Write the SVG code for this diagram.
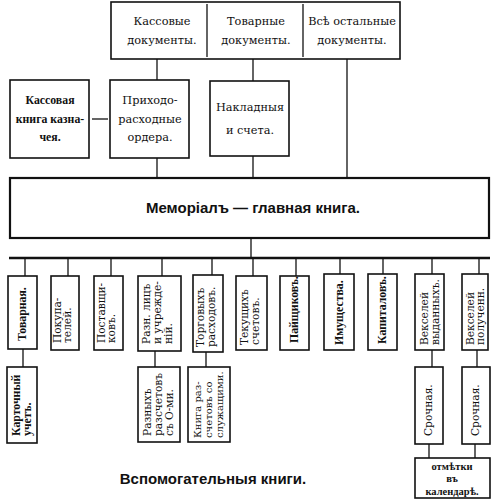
<svg xmlns="http://www.w3.org/2000/svg" width="491" height="500" viewBox="0 0 491 500">
<style>
.bx{fill:#fff;stroke:#111;stroke-width:1.6}
.ln{fill:none;stroke:#111;stroke-width:1.3}
.t{font-family:"DejaVu Serif","Liberation Serif",serif;font-size:11.3px;fill:#111;text-anchor:middle}
.kb{font-family:"Liberation Serif","DejaVu Serif",serif;font-size:11.8px;font-weight:bold;fill:#111;text-anchor:middle}
.v{font-family:"DejaVu Serif","Liberation Serif",serif;font-size:10.6px;fill:#111;text-anchor:start}
.vb{font-family:"Liberation Serif","DejaVu Serif",serif;font-size:11.8px;font-weight:bold;fill:#111;text-anchor:start}
.s{font-family:"Liberation Sans","DejaVu Sans",sans-serif;font-size:15px;font-weight:bold;fill:#111;text-anchor:middle}
</style>
<rect width="491" height="500" fill="#fff"/>
<g id="connectors">
<line class="ln" x1="157" y1="59" x2="157" y2="80"/>
<line class="ln" x1="253" y1="59" x2="253" y2="81"/>
<line class="ln" x1="347" y1="59" x2="347" y2="178"/>
<line class="ln" x1="92" y1="119" x2="108" y2="119"/>
<line class="ln" x1="157" y1="158" x2="157" y2="178"/>
<line class="ln" x1="253" y1="156" x2="253" y2="178"/>
<line class="ln" x1="251" y1="238" x2="251" y2="258"/>
<line x1="9" y1="258" x2="490" y2="258" stroke="#111" stroke-width="2.6"/>
<line class="ln" x1="25" y1="258" x2="25" y2="276"/>
<line class="ln" x1="68" y1="258" x2="68" y2="276"/>
<line class="ln" x1="111" y1="258" x2="111" y2="276"/>
<line class="ln" x1="162" y1="258" x2="162" y2="276"/>
<line class="ln" x1="212" y1="258" x2="212" y2="275"/>
<line class="ln" x1="253" y1="258" x2="253" y2="276"/>
<line class="ln" x1="296" y1="258" x2="296" y2="276"/>
<line class="ln" x1="340" y1="258" x2="340" y2="274"/>
<line class="ln" x1="383" y1="258" x2="383" y2="274"/>
<line class="ln" x1="432" y1="258" x2="432" y2="274"/>
<line class="ln" x1="479" y1="258" x2="479" y2="274"/>
<line class="ln" x1="23" y1="349" x2="23" y2="367"/>
<line class="ln" x1="155" y1="351" x2="155" y2="367"/>
<line class="ln" x1="206" y1="352" x2="206" y2="367"/>
<line class="ln" x1="432" y1="350" x2="432" y2="367"/>
<line class="ln" x1="477" y1="350" x2="477" y2="367"/>
<line class="ln" x1="429" y1="444" x2="429" y2="458"/>
<line class="ln" x1="475" y1="444" x2="475" y2="458"/>
</g>
<g id="top-documents">
<rect class="bx" x="111" y="2" width="289" height="57"/>
<line class="ln" x1="207" y1="4" x2="207" y2="57"/>
<line class="ln" x1="303" y1="4" x2="303" y2="57"/>
<text class="t" x="162" y="25">Кассовые</text>
<text class="t" x="162" y="44">документы.</text>
<text class="t" x="256" y="25">Товарные</text>
<text class="t" x="256" y="44">документы.</text>
<text class="t" x="352" y="25">Всѣ остальные</text>
<text class="t" x="352" y="44">документы.</text>
</g>
<g id="kassovaya">
<rect class="bx" x="10" y="80" width="79" height="78"/>
<text class="kb" x="50" y="104">Кассовая</text>
<text class="kb" x="50" y="123">книга казна-</text>
<text class="kb" x="50" y="141">чея.</text>
</g>
<g id="prikhodo">
<rect class="bx" x="110" y="80" width="79" height="78"/>
<text class="t" x="150" y="104">Приходо-</text>
<text class="t" x="150" y="123">расходные</text>
<text class="t" x="150" y="141">ордера.</text>
</g>
<g id="nakladnyya">
<rect class="bx" x="210" y="81" width="79" height="75"/>
<text class="t" x="250" y="111">Накладныя</text>
<text class="t" x="250" y="134">и счета.</text>
</g>
<g id="memorial">
<rect x="10" y="178" width="479" height="60" fill="#fff" stroke="#111" stroke-width="2.2"/>
<text class="s" x="253" y="213">Меморіалъ — главная  книга.</text>
</g>
<g id="tovarnaya">
<rect class="bx" x="8" y="276" width="29" height="73"/>
<text class="vb" transform="translate(26,341) rotate(-90)">Товарная.</text>
</g>
<g id="pokupateley">
<rect class="bx" x="51" y="276" width="28" height="74"/>
<text class="v" transform="translate(61,343) rotate(-90)">Покупа-</text>
<text class="v" transform="translate(71,343) rotate(-90)">телей.</text>
</g>
<g id="postavshchikov">
<rect class="bx" x="94" y="276" width="29" height="74"/>
<text class="v" transform="translate(105,343) rotate(-90)">Поставщи-</text>
<text class="v" transform="translate(115,343) rotate(-90)">ковъ.</text>
</g>
<g id="razn-lits">
<rect class="bx" x="138" y="276" width="43" height="75"/>
<text class="v" transform="translate(150,344) rotate(-90)">Разн. лицъ</text>
<text class="v" transform="translate(161,344) rotate(-90)">и учрежде-</text>
<text class="v" transform="translate(172,344) rotate(-90)">ній.</text>
</g>
<g id="torgovykh">
<rect class="bx" x="193" y="275" width="30" height="77"/>
<text class="v" transform="translate(204,347) rotate(-90)">Торговыхъ</text>
<text class="v" transform="translate(215,347) rotate(-90)">расходовъ.</text>
</g>
<g id="tekushchikh">
<rect class="bx" x="236" y="276" width="31" height="74"/>
<text class="v" transform="translate(248,345) rotate(-90)">Текущихъ</text>
<text class="v" transform="translate(259,345) rotate(-90)">счетовъ.</text>
</g>
<g id="payshchikov">
<rect class="bx" x="280" y="276" width="29" height="74"/>
<text class="vb" transform="translate(298,343) rotate(-90)">Пайщиковъ.</text>
</g>
<g id="imushchestva">
<rect class="bx" x="324" y="274" width="30" height="76"/>
<text class="vb" transform="translate(343,345) rotate(-90)">Имущества.</text>
</g>
<g id="kapitalov">
<rect class="bx" x="368" y="274" width="29" height="76"/>
<text class="vb" transform="translate(386,344) rotate(-90)">Капиталовъ.</text>
</g>
<g id="vekseley-vydannykh">
<rect class="bx" x="415" y="274" width="29" height="76"/>
<text class="v" transform="translate(428,345) rotate(-90)">Векселей</text>
<text class="v" transform="translate(439,345) rotate(-90)">выданныхъ.</text>
</g>
<g id="vekseley-poluchennykh">
<rect class="bx" x="462" y="274" width="26" height="76"/>
<text class="v" transform="translate(474,345) rotate(-90)">Векселей</text>
<text class="v" transform="translate(484,345) rotate(-90)">полученн.</text>
</g>
<g id="kartochny">
<rect class="bx" x="7" y="367" width="30" height="76"/>
<text class="vb" transform="translate(20,436) rotate(-90)">Карточный</text>
<text class="vb" transform="translate(31,436) rotate(-90)">учетъ.</text>
</g>
<g id="raznykh-raschetov">
<rect class="bx" x="138" y="367" width="42" height="75"/>
<text class="v" transform="translate(151,436) rotate(-90)">Разныхъ</text>
<text class="v" transform="translate(162,436) rotate(-90)">разсчетовъ</text>
<text class="v" transform="translate(173,436) rotate(-90)">съ О-ми.</text>
</g>
<g id="kniga-raschetov">
<rect class="bx" x="188" y="367" width="42" height="75"/>
<text class="v" style="font-size:10px" transform="translate(201,438) rotate(-90)">Книга раз-</text>
<text class="v" style="font-size:10px" transform="translate(212,438) rotate(-90)">счетовъ со</text>
<text class="v" style="font-size:10px" transform="translate(223,438) rotate(-90)">служащими.</text>
</g>
<g id="srochnaya-1">
<rect class="bx" x="415" y="367" width="28" height="77"/>
<text class="v" transform="translate(432,436) rotate(-90)">Срочная.</text>
</g>
<g id="srochnaya-2">
<rect class="bx" x="462" y="367" width="28" height="77"/>
<text class="v" transform="translate(479,436) rotate(-90)">Срочная.</text>
</g>
<g id="otmetki">
<rect class="bx" x="415" y="458" width="75" height="40"/>
<text class="kb" x="452" y="470" style="font-size:10.5px">отмѣтки</text>
<text class="kb" x="452" y="482" style="font-size:10.5px">въ</text>
<text class="kb" x="452" y="495" style="font-size:10.5px">календарѣ.</text>
</g>
<g id="caption">
<text class="s" x="213" y="484">Вспомогательныя  книги.</text>
</g>
</svg>
